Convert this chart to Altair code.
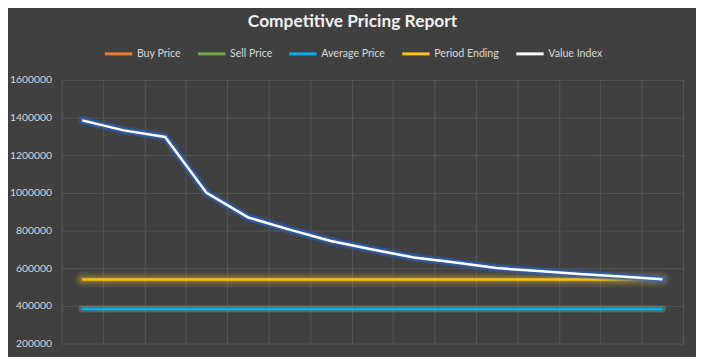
import altair as alt
import pandas as pd

series_names = ["Buy Price", "Sell Price", "Average Price", "Period Ending", "Value Index"]
series_colors = ["#ed7d31", "#70ad47", "#00b0f0", "#ffc000", "#ffffff"]

periods = list(range(1, 16))
value_index = [1385000, 1332000, 1297000, 1000000, 870000, 805000, 745000, 700000,
               657000, 630000, 601000, 585000, 570000, 556000, 542000]
period_ending = [540000] * 15
average_price = [384000] * 15

# glow layers: (color, width, opacity) from outer to inner
glows = {
    "Average Price": [("#5fb3a3", 8, 0.18), ("#5fb3a3", 6, 0.3)],
    "Period Ending": [("#e0b83a", 16, 0.08), ("#e0b83a", 12, 0.1), ("#e0b83a", 8, 0.14), ("#e0b83a", 5, 0.2)],
    "Value Index": [("#2f5fb0", 9, 0.3), ("#2f5fb0", 7, 0.5), ("#2f5fb0", 5, 0.6)],
}

rows = []
for name, vals in [("Average Price", average_price), ("Period Ending", period_ending), ("Value Index", value_index)]:
    for p, v in zip(periods, vals):
        rows.append({"series": name, "pos": p - 0.5, "value": v})
df = pd.DataFrame(rows)

x = alt.X("pos:Q", scale=alt.Scale(domain=[0, 15], nice=False),
          axis=alt.Axis(values=list(range(0, 16)), labels=False, ticks=False, domain=False,
                        grid=True, gridColor="#575757", title=None))
y = alt.Y("value:Q", scale=alt.Scale(domain=[200000, 1600000], nice=False),
          axis=alt.Axis(values=list(range(200000, 1600001, 200000)), format="d", ticks=False,
                        domain=False, grid=True, gridColor="#575757", title=None,
                        labelColor="#d9d9d9", labelFont="Lato", labelFontSize=10.5,
                        labelPadding=10))

color = alt.Color("series:N", scale=alt.Scale(domain=series_names, range=series_colors),
                  legend=alt.Legend(title=None, orient="none", direction="horizontal",
                                    legendX=42, legendY=-42, symbolType="stroke",
                                    symbolSize=760, symbolStrokeWidth=3, labelOffset=3,
                                    columnPadding=10, labelColor="#d9d9d9", labelFont="Lato",
                                    labelFontSize=10.7))

layers = []
for name in ["Average Price", "Period Ending", "Value Index"]:
    sub = df[df.series == name]
    for gc, gw, go in glows[name]:
        layers.append(alt.Chart(sub).mark_line(color=gc, strokeWidth=gw, opacity=go,
                                               strokeCap="round").encode(x=x, y=y))
    layers.append(alt.Chart(sub).mark_line(strokeWidth=2.5).encode(x=x, y=y, color=color))

chart = alt.layer(*layers).properties(
    width=627, height=266,
    background="#404040",
    autosize=alt.AutoSizeParams(type="none"),
    padding={"left": 54, "top": 71, "right": 13, "bottom": 12},
    title=alt.Title("Competitive Pricing Report", color="#f2f2f2", font="Lato", fontSize=17.5,
                    fontWeight="bold", dx=-20, offset=8),
).configure_view(stroke=None)

chart.save("out.html", embed_options={"renderer": "svg", "actions": False})
